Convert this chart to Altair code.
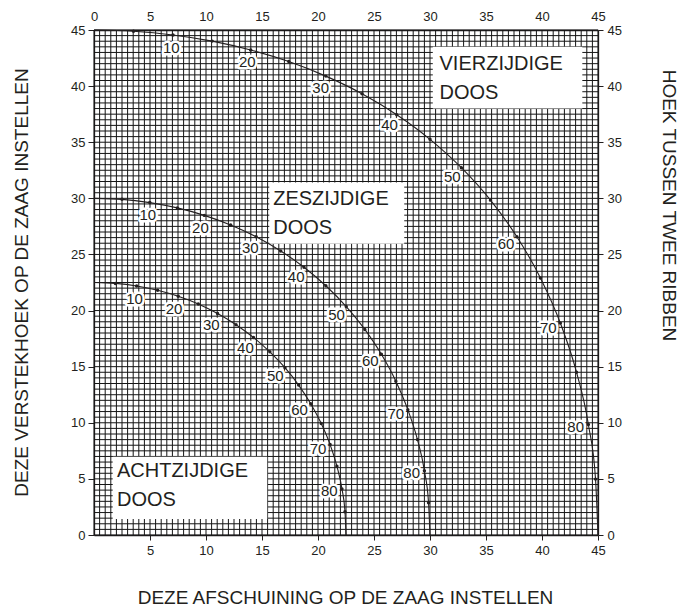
import altair as alt
import numpy as np
import pandas as pd

# Angle between two ribs (labels along the curves), every 5 degrees
angles = [0, 5, 10, 15, 20, 25, 30, 35, 40, 45, 50, 55, 60, 65, 70, 75, 80, 85, 90]

# Four-sided box
vier_bevel = [0.0, 3.53, 7.05, 10.55, 13.99, 17.39, 20.70, 23.93, 27.03, 30.00,
              32.80, 35.40, 37.76, 39.86, 41.64, 43.08, 44.14, 44.78, 45.0]
vier_miter = [45.0, 44.89, 44.56, 44.01, 43.22, 42.19, 40.89, 39.32, 37.45, 35.26,
              32.73, 29.84, 26.57, 22.91, 18.88, 14.51, 9.85, 4.98, 0.0]

# Six-sided box
zes_bevel = [0.0, 2.50, 4.98, 7.44, 9.85, 12.20, 14.48, 16.67, 18.75, 20.70,
             22.52, 24.18, 25.66, 26.95, 28.02, 28.88, 29.50, 29.87, 30.0]
zes_miter = [30.0, 29.91, 29.62, 29.15, 28.48, 27.62, 26.57, 25.31, 23.86, 22.21,
             20.36, 18.32, 16.10, 13.71, 11.17, 8.50, 5.73, 2.88, 0.0]

# Eight-sided box
acht_bevel = [0.0, 1.91, 3.81, 5.68, 7.52, 9.31, 11.03, 12.68, 14.24, 15.70,
              17.05, 18.27, 19.35, 20.29, 21.08, 21.69, 22.14, 22.41, 22.5]
acht_miter = [22.5, 22.42, 22.19, 21.81, 21.27, 20.58, 19.73, 18.74, 17.60, 16.32,
              14.91, 13.36, 11.70, 9.93, 8.06, 6.12, 4.11, 2.07, 0.0]

series_names = ["VIERZIJDIGE", "ZESZIJDIGE", "ACHTZIJDIGE"]
box_texts = ["VIERZIJDIGE\nDOOS", "ZESZIJDIGE\nDOOS", "ACHTZIJDIGE\nDOOS"]

x_tick_bottom = [5, 10, 15, 20, 25, 30, 35, 40, 45]
tick_all = [0, 5, 10, 15, 20, 25, 30, 35, 40, 45]

x_title = "DEZE AFSCHUINING OP DE ZAAG INSTELLEN"
y_title = "DEZE VERSTEKHOEK OP DE ZAAG INSTELLEN"
r_title = "HOEK TUSSEN TWEE RIBBEN"

# annotation placement (data units)
box_x0 = [30.25, 15.65, 1.67]
box_x1 = [43.6, 27.7, 15.47]
box_y0 = [38.0, 25.95, 1.43]
box_y1 = [43.5, 31.4, 6.98]
text_x = [30.85, 16.0, 2.05]
text_y = [41.45, 29.4, 5.15]

FONT = "Liberation Sans"
INK = "#231f20"

curves = [(series_names[0], vier_bevel, vier_miter),
          (series_names[1], zes_bevel, zes_miter),
          (series_names[2], acht_bevel, acht_miter)]

rows = []
lab_rows = []
for name, bev, mit in curves:
    for i, a in enumerate(angles):
        rows.append(dict(series=name, angle=a, bevel=bev[i], miter=mit[i]))
        if a % 10 == 0 and 0 < a < 90:
            tx = bev[i + 1] - bev[i - 1]
            ty = mit[i + 1] - mit[i - 1]
            n = np.hypot(tx, ty)
            nx, ny = ty / n, -tx / n
            lab_rows.append(dict(series=name, label=str(a),
                                 lx=bev[i] + 1.15 * nx, ly=mit[i] + 1.15 * ny))
df = pd.DataFrame(rows)
dots_df = df[(df.angle > 0) & (df.angle < 90)]
lab_df = pd.DataFrame(lab_rows)
box_df = pd.DataFrame(dict(x0=box_x0, x1=box_x1, y0=box_y0, y1=box_y1,
                           tx=text_x, ty=text_y, txt=box_texts))
grid_df = pd.DataFrame({"g": np.arange(0, 45.01, 0.5)})

xs = alt.Scale(domain=[0, 45], nice=False, zero=False)
ys = alt.Scale(domain=[0, 45], nice=False, zero=False)

base_axis = dict(domainColor=INK, domainWidth=1.3, tickColor=INK, tickWidth=1,
                 labelFont=FONT, labelFontSize=13, labelColor=INK,
                 titleFont=FONT, titleFontSize=19, titleFontWeight="normal",
                 titleColor=INK, grid=False, labelFlush=False, labelOverlap=False)

x_bottom = alt.Axis(orient="bottom", values=x_tick_bottom, tickSize=5, labelPadding=4,
                    title=x_title, titleX=251, titleY=68, titleAlign="center",
                    titleBaseline="alphabetic", **base_axis)
x_top = alt.Axis(orient="top", values=tick_all, ticks=False, tickSize=0,
                 labelPadding=7, title=None, **base_axis)
y_left = alt.Axis(orient="left", values=tick_all, tickSize=6, labelPadding=3,
                  title=y_title, titleAngle=270, titleX=-73, titleY=252,
                  titleAlign="center", titleBaseline="middle", **base_axis)
y_right = alt.Axis(orient="right", values=tick_all, tickSize=5, labelPadding=4,
                   title=r_title, titleAngle=90, titleX=70, titleY=175,
                   titleAlign="center", titleBaseline="middle", **base_axis)

gridx = alt.Chart(grid_df).mark_rule(color="#151515", strokeWidth=1).encode(
    x=alt.X("g:Q", scale=xs, axis=x_bottom))
gridy = alt.Chart(grid_df).mark_rule(color="#151515", strokeWidth=1).encode(
    y=alt.Y("g:Q", scale=ys, axis=y_left))

boxes = alt.Chart(box_df).mark_rect(color="white", opacity=1).encode(
    x=alt.X("x0:Q", scale=xs, axis=None), x2="x1:Q",
    y=alt.Y("y0:Q", scale=ys, axis=None), y2="y1:Q")

lines = alt.Chart(df).mark_line(color=INK, strokeWidth=1.1, interpolate="monotone").encode(
    x=alt.X("bevel:Q", scale=xs, axis=None),
    y=alt.Y("miter:Q", scale=ys, axis=None),
    detail="series:N", order="angle:Q")

dots = alt.Chart(dots_df).mark_circle(color=INK, size=12, opacity=1).encode(
    x=alt.X("bevel:Q", scale=xs, axis=x_top),
    y=alt.Y("miter:Q", scale=ys, axis=y_right))

halo = alt.Chart(lab_df).mark_text(font=FONT, fontSize=15, color="white", stroke="white",
                                   strokeWidth=5, strokeJoin="round", align="center",
                                   baseline="middle").encode(
    x=alt.X("lx:Q", scale=xs, axis=None), y=alt.Y("ly:Q", scale=ys, axis=None),
    text="label:N")
labels = alt.Chart(lab_df).mark_text(font=FONT, fontSize=15, color=INK, align="center",
                                     baseline="middle").encode(
    x=alt.X("lx:Q", scale=xs, axis=None), y=alt.Y("ly:Q", scale=ys, axis=None),
    text="label:N")

boxtext = alt.Chart(box_df).mark_text(font=FONT, fontSize=20, color=INK, align="left",
                                      baseline="alphabetic", lineHeight=29,
                                      lineBreak="\n").encode(
    x=alt.X("tx:Q", scale=xs, axis=None), y=alt.Y("ty:Q", scale=ys, axis=None),
    text="txt:N")

chart = alt.layer(gridx, gridy, boxes, lines, dots, halo, labels, boxtext).resolve_scale(
    x="independent", y="independent").resolve_axis(
    x="independent", y="independent").properties(
    width=504, height=505,
    padding={"left": 86, "top": 22, "right": 82, "bottom": 71},
    autosize=alt.AutoSizeParams(type="none"),
    background="white").configure_view(stroke=None)

chart.save("out.html", embed_options={"renderer": "svg", "actions": False})
